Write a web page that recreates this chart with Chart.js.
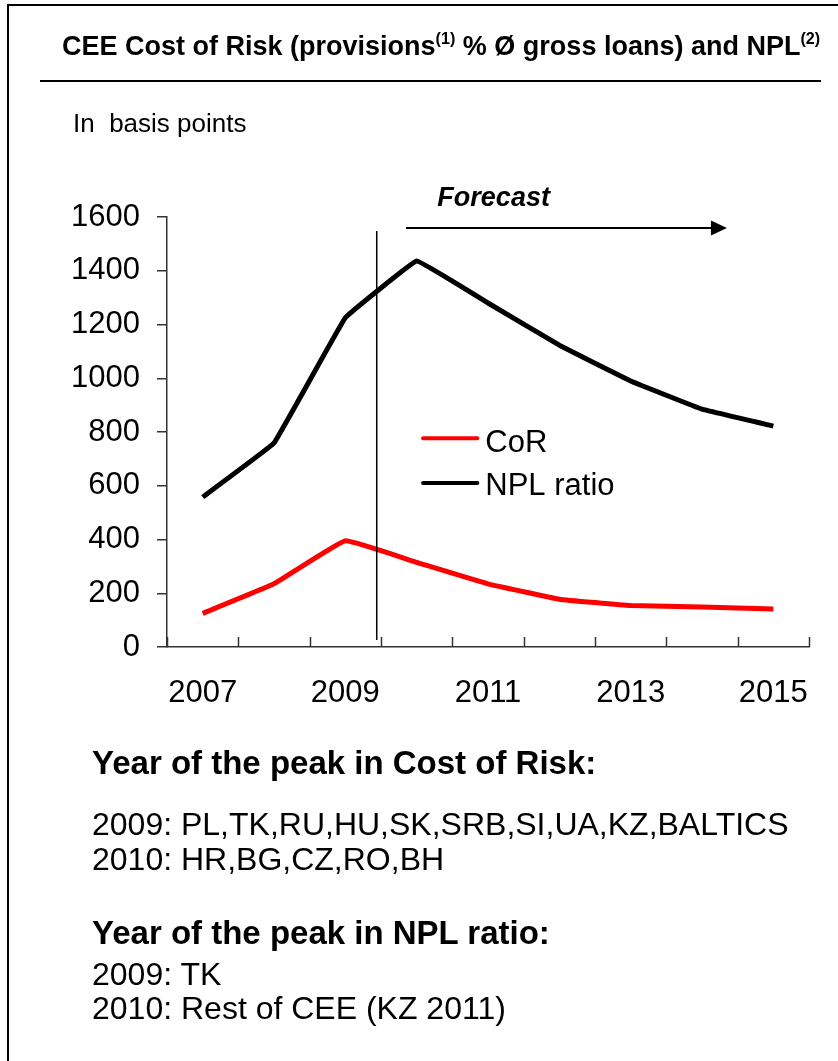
<!DOCTYPE html>
<html>
<head>
<meta charset="utf-8">
<script src="https://cdn.jsdelivr.net/npm/chart.js@4/dist/chart.umd.min.js"></script>
<style>
  html, body { margin: 0; padding: 0; background: #fff; }
  body { width: 838px; height: 1061px; position: relative; overflow: hidden;
         font-family: "Liberation Sans", Arial, sans-serif; color: #000; }
  #frame { position: absolute; left: 7px; top: 4px; width: 900px; height: 1100px;
           border: 2px solid #000; }
  #rule { position: absolute; left: 40px; top: 80px; width: 781px; height: 0;
          border-top: 2px solid #000; }
  #chart { position: absolute; left: 0; top: 0; }
  .t { position: absolute; white-space: pre; }
  .t sup { font-size: 60%; line-height: 0; vertical-align: 0; position: relative; top: -0.65em; }
</style>
</head>
<body>
<div id="frame"></div>
<canvas id="chart" width="838" height="1061"></canvas>
<div class="t" style="left:62px;top:33px;font-size:27px;line-height:27px;font-weight:bold">CEE Cost of Risk (provisions<sup>(1)</sup> % Ø gross loans) and NPL<sup>(2)</sup></div>
<div id="rule"></div>
<div class="t" style="left:73px;top:110px;font-size:26px;line-height:26px">In  basis points</div>
<div class="t" style="left:92px;top:746px;font-size:33px;line-height:33px;font-weight:bold">Year of the peak in Cost of Risk:</div>
<div class="t" style="left:92px;top:808px;font-size:32px;line-height:32px">2009: PL,TK,RU,HU,SK,SRB,SI,UA,KZ,BALTICS</div>
<div class="t" style="left:92px;top:843px;font-size:32px;line-height:32px">2010: HR,BG,CZ,RO,BH</div>
<div class="t" style="left:92px;top:916px;font-size:33px;line-height:33px;font-weight:bold">Year of the peak in NPL ratio:</div>
<div class="t" style="left:92px;top:958px;font-size:32px;line-height:32px">2009: TK</div>
<div class="t" style="left:92px;top:992px;font-size:32px;line-height:32px">2010: Rest of CEE (KZ 2011)</div>
<script>
// data (basis points)
var years = ["2007", "2008", "2009", "2010", "2011", "2012", "2013", "2014", "2015"];
var corValues = [125, 235, 395, 315, 235, 178, 154, 149, 141];
var nplValues = [558, 759, 1225, 1436, 1280, 1123, 990, 885, 822];
var yTicks = [0, 200, 400, 600, 800, 1000, 1200, 1400, 1600];
var seriesNames = ["CoR", "NPL ratio"];
var seriesColors = ["#ff0000", "#000000"];

var FONT = '"Liberation Sans", Arial, sans-serif';

var extras = {
  id: "extras",
  afterDatasetsDraw: function (chart) {
    var ctx = chart.ctx, x = chart.scales.x, y = chart.scales.y, a = chart.chartArea;
    ctx.save();
    // small tick marks on the category boundaries, pointing up into the plot
    ctx.strokeStyle = "#333";
    ctx.lineWidth = 1.5;
    var n = years.length;
    for (var i = 0; i <= n; i++) {
      var px = Math.round(x.getPixelForValue(i - 0.5)) + 0.5;
      ctx.beginPath();
      ctx.moveTo(px, a.bottom);
      ctx.lineTo(px, a.bottom - 10);
      ctx.stroke();
    }
    // actual / forecast divider
    var vx = x.getPixelForValue(2.44);
    ctx.strokeStyle = "#000";
    ctx.lineWidth = 1.5;
    ctx.beginPath();
    ctx.moveTo(vx, y.getPixelForValue(1548));
    ctx.lineTo(vx, y.getPixelForValue(26));
    ctx.stroke();
    // forecast arrow
    var ay = y.getPixelForValue(1559);
    var x0 = x.getPixelForValue(2.85), x1 = x.getPixelForValue(7.35);
    ctx.lineWidth = 2;
    ctx.beginPath();
    ctx.moveTo(x0, ay);
    ctx.lineTo(x1 - 14, ay);
    ctx.stroke();
    ctx.fillStyle = "#000";
    ctx.beginPath();
    ctx.moveTo(x1, ay);
    ctx.lineTo(x1 - 16, ay - 7.5);
    ctx.lineTo(x1 - 16, ay + 7.5);
    ctx.closePath();
    ctx.fill();
    ctx.font = "italic bold 27px " + FONT;
    ctx.textBaseline = "alphabetic";
    ctx.textAlign = "left";
    ctx.fillText("Forecast", x.getPixelForValue(3.29), y.getPixelForValue(1640));
    // legend inside the plot
    var lx0 = x.getPixelForValue(3.09), lx1 = x.getPixelForValue(3.85);
    var rows = [{ v: 777, base: 452 - 438 }, { v: 610, base: 495 - 483 }];
    ctx.lineCap = "round";
    ctx.font = "31px " + FONT;
    for (var k = 0; k < 2; k++) {
      var ly = y.getPixelForValue(rows[k].v);
      ctx.strokeStyle = seriesColors[k];
      ctx.lineWidth = 4;
      ctx.beginPath();
      ctx.moveTo(lx0, ly);
      ctx.lineTo(lx1, ly);
      ctx.stroke();
      ctx.fillStyle = "#000";
      ctx.fillText(seriesNames[k], lx1 + 8, ly + rows[k].base);
    }
    ctx.restore();
  }
};

new Chart(document.getElementById("chart").getContext("2d"), {
  type: "line",
  data: {
    labels: years,
    datasets: [
      { label: seriesNames[0], data: corValues, borderColor: seriesColors[0], borderWidth: 5,
        pointRadius: 0, tension: 0.08, borderJoinStyle: "round", fill: false },
      { label: seriesNames[1], data: nplValues, borderColor: seriesColors[1], borderWidth: 5,
        pointRadius: 0, tension: 0.05, borderJoinStyle: "round", fill: false }
    ]
  },
  options: {
    responsive: false,
    animation: false,
    devicePixelRatio: 1,
    layout: { padding: { top: 217, left: 0, right: 29, bottom: 0 } },
    plugins: { legend: { display: false }, tooltip: { enabled: false } },
    scales: {
      x: {
        offset: true,
        grid: { display: false, drawTicks: false },
        border: { display: true, color: "#333", width: 1.5 },
        ticks: {
          autoSkip: false, maxRotation: 0, padding: 28, color: "#000",
          font: { family: FONT, size: 31 },
          callback: function (v, i) { return i % 2 === 0 ? years[i] : ""; }
        },
        afterFit: function (s) { s.height = 1061 - 647; }
      },
      y: {
        min: 0, max: 1600,
        afterBuildTicks: function (s) { s.ticks = yTicks.map(function (v) { return { value: v }; }); },
        grid: { display: true, drawOnChartArea: false, drawTicks: true, tickLength: 10, color: "#333", lineWidth: 1.5 },
        border: { display: true, color: "#333", width: 1.5 },
        ticks: {
          padding: 17, color: "#000", font: { family: FONT, size: 31 },
          callback: function (v) { return String(v); }
        },
        afterFit: function (s) { s.width = 167; }
      }
    }
  },
  plugins: [extras]
});
</script>
</body>
</html>
